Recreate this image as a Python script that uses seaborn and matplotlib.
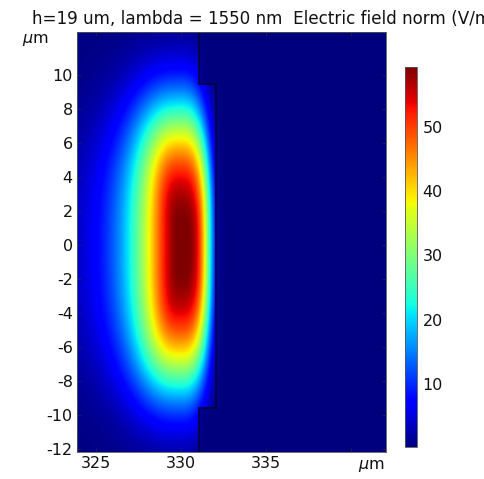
import numpy as np
import matplotlib
matplotlib.use("Agg")
import matplotlib.pyplot as plt
import seaborn as sns

# Mode parameters (micrometres, V/m)
peak_field = 59.2
center_x = 329.95
center_y = -0.1
# half-widths of the ~21 V/m contour on each side
half_left, half_right, half_vert = 2.95, 1.75, 8.6
# contour squareness (2 = ellipse)
contour_power = 2.6
# horizontal decay: hyperbolic on the cladding side, steep toward the wall
left_scale, left_rate = 2.1, 1.37
right_width, right_power = 1.77, 4.0
vert_width, vert_power = 8.26, 3.1
background_field = 0.4

# Waveguide outline: x of the side wall and the y where it steps out
wall_x_outer = 331.06
wall_x_inner = 332.06
step_y = [-9.6, 9.5]

# Axis settings
x_limits = [323.88, 342.06]
y_limits = [-12.18, 12.53]
x_ticks = [325, 330, 335, 340]
x_tick_labels = ["325", "330", "335", ""]
y_ticks = [-12, -10, -8, -6, -4, -2, 0, 2, 4, 6, 8, 10]
cbar_ticks = [10, 20, 30, 40, 50]
cbar_limits = [0.2, 59.3]
title_text = "h=19 um, lambda = 1550 nm  Electric field norm (V/m)"

sns.set_theme(style="white")
plt.rcParams["font.family"] = ["DejaVu Sans"]
plt.rcParams["axes.unicode_minus"] = False


def mode_profile(X, Y):
    """Field norm of the guided mode, blending the x and y decay laws by angle."""
    dx = X - center_x
    dy = Y - center_y
    ax_half = np.where(dx < 0, half_left, half_right)
    u = np.abs(dx / ax_half)
    v = np.abs(dy / half_vert)
    n = contour_power
    rn = u ** n + v ** n
    r = rn ** (1 / n)
    wx = np.where(rn > 0, u ** n / np.maximum(rn, 1e-12), 1.0)
    d_x = r * ax_half
    d_y = r * half_vert
    lx_left = left_rate * (np.sqrt(1 + (d_x / left_scale) ** 2) - 1)
    lx_right = (d_x / right_width) ** right_power
    lx = np.where(dx < 0, lx_left, lx_right)
    ly = (d_y / vert_width) ** vert_power
    return peak_field * np.exp(-(wx * lx + (1 - wx) * ly))


# Field map on a fine grid
xs = np.linspace(x_limits[0], x_limits[1], 700)
ys = np.linspace(y_limits[0], y_limits[1], 900)
X, Y = np.meshgrid(xs, ys)
field = mode_profile(X, Y)

wall = np.where((Y > step_y[0]) & (Y < step_y[1]), wall_x_inner, wall_x_outer)
outside = X > wall
edge_field = mode_profile(wall, Y)
leak = 0.35 * edge_field * np.exp(-(X - wall) / 0.12)
field = np.where(outside, leak, field) + background_field

fig = plt.figure(figsize=(4.85, 4.79), dpi=100)
ax = fig.add_axes([77 / 485, 27 / 479, 309 / 485, 420 / 479])
cax = fig.add_axes([405 / 485, 32 / 479, 12 / 485, 380 / 479])

cmap = matplotlib.colormaps["jet"]
im = ax.imshow(field, extent=[xs[0], xs[-1], ys[0], ys[-1]], origin="lower",
               cmap=cmap, vmin=cbar_limits[0], vmax=cbar_limits[1],
               aspect="auto", interpolation="bilinear")

# Side wall outline
outline_x = [wall_x_outer, wall_x_outer, wall_x_inner, wall_x_inner, wall_x_outer, wall_x_outer]
outline_y = [y_limits[1], step_y[1], step_y[1], step_y[0], step_y[0], y_limits[0]]
ax.plot(outline_x, outline_y, color="#00002a", lw=1.3, alpha=0.8)

ax.set_xlim(x_limits)
ax.set_ylim(y_limits)
ax.set_xticks(x_ticks)
ax.set_xticklabels(x_tick_labels)
ax.set_yticks(y_ticks)
ax.tick_params(direction="in", length=3, width=0.6, color="#222244",
               labelsize=11.5, labelcolor="#111111", pad=3,
               top=True, right=True, bottom=True, left=True)
for s in ax.spines.values():
    s.set_linewidth(0.6)
    s.set_color("#555555")

cb = fig.colorbar(im, cax=cax)
cb.set_ticks(cbar_ticks)
cb.ax.tick_params(direction="in", length=3, width=0.6, color="#222244",
                  labelsize=11.5, labelcolor="#111111", pad=4, left=True, right=False)
cb.outline.set_linewidth(0.6)
cb.outline.set_edgecolor("#555555")

fig.text(32 / 485, 1 - 19 / 479, title_text, fontsize=12.1, color="#111111",
         ha="left", va="center")
fig.text(22 / 485, 1 - 40 / 479, r"$\mu$m", fontsize=11.5, color="#111111",
         ha="left", va="center")
fig.text(358 / 485, 1 - 466 / 479, r"$\mu$m", fontsize=11.5, color="#111111",
         ha="left", va="center")

fig.savefig("out.png", dpi=100)
